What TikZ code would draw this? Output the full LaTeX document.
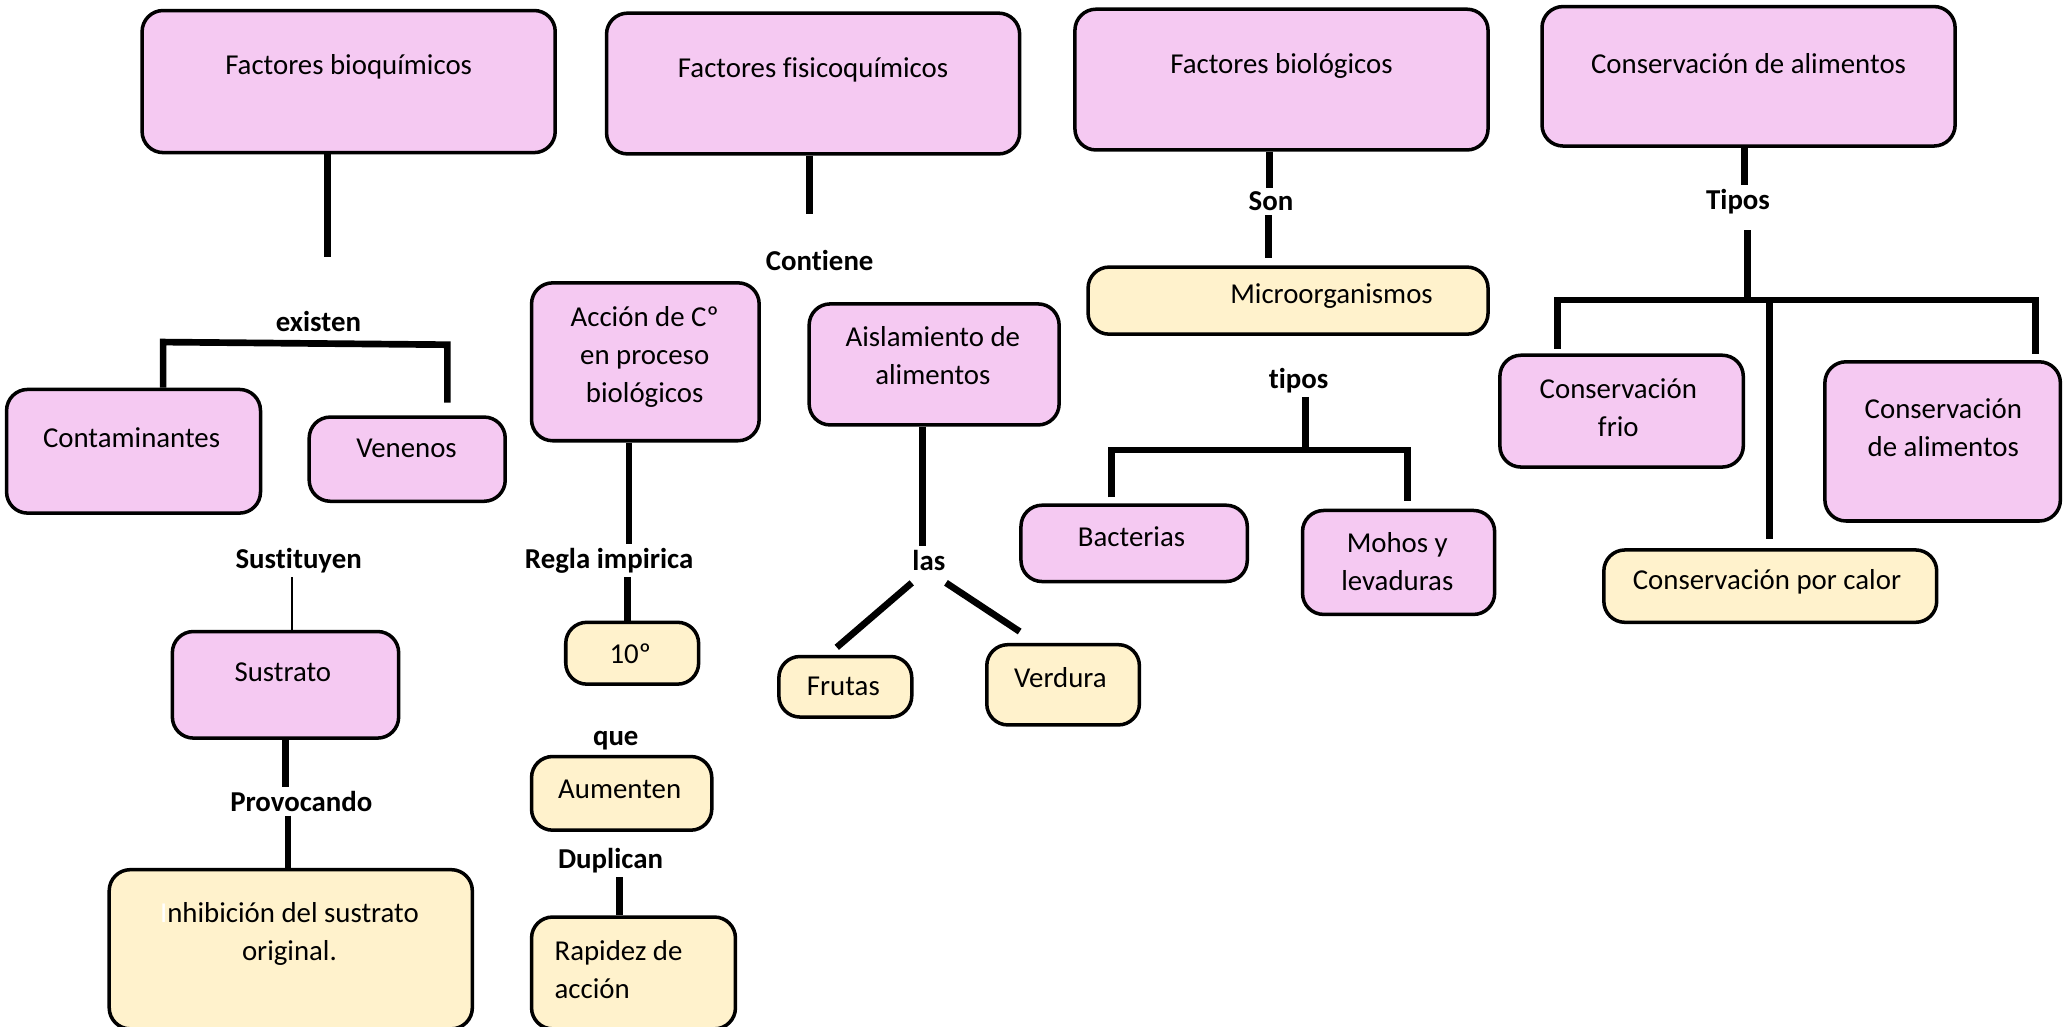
\documentclass[tikz,border=0pt]{standalone}
\usepackage{fontspec}
\setmainfont{Carlito}[Ligatures=NoCommon]
\usetikzlibrary{fit}
\definecolor{rosa}{RGB}{245,201,242}
\definecolor{crema}{RGB}{255,242,204}
\tikzset{caja/.style = {draw=black, line width=1pt, rounded corners=6pt, inner sep=0pt}}
\tikzset{rosabox/.style = {caja, fill=rosa}}
\tikzset{cremabox/.style = {caja, fill=crema}}
\tikzset{txt/.style = {font=\fontsize{8.2}{10.8}\selectfont, align=center, inner sep=0pt}}
\tikzset{rel/.style = {font=\fontsize{8.2}{10.8}\selectfont\bfseries, inner sep=1pt}}
\tikzset{con/.style = {line width=1.9pt}}

\begin{document}
\begin{tikzpicture}[x=0.01316cm, y=-0.01316cm]
                    \useasboundingbox (0,0) rectangle (1568,780);

                    % cajas
                    \node[rosabox, fit={(108,8) (422,116)}] (bioq) {};
                    \node[rosabox, fit={(461,10) (775,117)}] (fisq) {};
                    \node[rosabox, fit={(817,7) (1131,114)}] (biol) {};
                    \node[rosabox, fit={(1172,5) (1486,111)}] (cons) {};
                    \node[rosabox, fit={(5,296) (198,390)}] (conta) {};
                    \node[rosabox, fit={(235,317) (384,381)}] (venen) {};
                    \node[rosabox, fit={(131,480) (303,561)}] (sustr) {};
                    \node[cremabox, fit={(83,661) (359,782)}] (inhib) {};
                    \node[rosabox, fit={(404,215) (577,335)}] (accion) {};
                    \node[rosabox, fit={(615,231) (805,323)}] (aisla) {};
                    \node[cremabox, fit={(430,473) (531,520)}] (diez) {};
                    \node[cremabox, fit={(404,575) (541,631)}] (aumen) {};
                    \node[cremabox, fit={(404,697) (559,782)}] (rapid) {};
                    \node[cremabox, fit={(592,499) (693,545)}] (frutas) {};
                    \node[cremabox, fit={(750,490) (866,551)}] (verdura) {};
                    \node[cremabox, fit={(827,203) (1131,254)}] (micro) {};
                    \node[rosabox, fit={(776,384) (948,442)}] (bact) {};
                    \node[rosabox, fit={(990,388) (1136,467)}] (mohos) {};
                    \node[rosabox, fit={(1140,270) (1325,355)}] (frio) {};
                    \node[rosabox, fit={(1387,275) (1566,396)}] (consal) {};
                    \node[cremabox, fit={(1219,418) (1472,473)}] (calor) {};

                    % textos de las cajas
                    \node[txt] (t-bioq) at (265,51) {Factores bioquímicos};
                    \node[txt] (t-fisq) at (618,53) {Factores fisicoquímicos};
                    \node[txt] (t-biol) at (974,50) {Factores biológicos};
                    \node[txt] (t-cons) at (1329,48) {Conservación de alimentos};
                    \node[txt] (t-conta) at (100,333) {Contaminantes};
                    \node[txt] (t-venen) at (309,341) {Venenos};
                    \node[txt] (t-sustr) at (215,511) {Sustrato};
                    \node[txt] (t-inhib) at (220,710) {{\color{white}I}nhibición del sustrato\\original.};
                    \node[txt] (t-accion) at (490,271) {Acción de Cº\\en proceso\\biológicos};
                    \node[txt] (t-aisla) at (709,270) {Aislamiento de\\alimentos};
                    \node[txt] (t-diez) at (479,497) {10º};
                    \node[txt] (t-aumen) at (471,600) {Aumenten};
                    \node[txt, anchor=west, align=left] (t-rapid) at (421,737) {Rapidez de\\acción};
                    \node[txt] (t-frutas) at (641,522) {Frutas};
                    \node[txt] (t-verdura) at (806,515) {Verdura};
                    \node[txt] (t-micro) at (1012,225) {Microorganismos};
                    \node[txt] (t-bact) at (860,408) {Bacterias};
                    \node[txt] (t-mohos) at (1062,427) {Mohos y\\levaduras};
                    \node[txt] (t-frio) at (1230,310) {Conservación\\frio};
                    \node[txt] (t-consal) at (1477,325) {Conservación\\de alimentos};
                    \node[txt] (t-calor) at (1343,442) {Conservación por calor};

                    % palabras de enlace
                    \node[rel] (existen) at (242,244) {existen};
                    \node[rel] (contiene) at (623,198) {Contiene};
                    \node[rel] (sustituyen) at (227,426) {Sustituyen};
                    \node[rel] (provocando) at (229,609) {Provocando};
                    \node[rel] (regla) at (463,426) {Regla impirica};
                    \node[rel] (que) at (468,563) {que};
                    \node[rel] (duplican) at (464,654) {Duplican};
                    \node[rel] (las) at (706,426) {las};
                    \node[rel] (son) at (966,153) {Son};
                    \node[rel] (tipos) at (987,289) {tipos};
                    \node[rel] (tipos2) at (1321,153) {Tipos};

                    % puntos libres
                    \coordinate (e1) at (249,195);
                    \coordinate (b1) at (124,260);
                    \coordinate (b2) at (340,262);
                    \coordinate (b3) at (340,306);
                    \coordinate (f1) at (615,163);
                    \coordinate (d1) at (693,443);
                    \coordinate (d2) at (636,492);
                    \coordinate (d3) at (719,443);
                    \coordinate (d4) at (775,480);
                    \coordinate (m1) at (964,196);
                    \coordinate (k1) at (992,342);
                    \coordinate (k2) at (845,342);
                    \coordinate (k3) at (1070,342);
                    \coordinate (k4) at (845,378);
                    \coordinate (k5) at (1070,381);
                    \coordinate (c1) at (1328,175);
                    \coordinate (c2) at (1328,228);
                    \coordinate (c3) at (1184,228);
                    \coordinate (c4) at (1547,228);
                    \coordinate (c5) at (1184,265);
                    \coordinate (c6) at (1547,269);
                    \coordinate (c7) at (1345,228);
                    \coordinate (c8) at (1345,410);

                    % conectores
                    \draw[con] (bioq.south -| e1) -- (e1);
                    \draw[con] (conta.north -| b1) -- (b1) -- (b2) -- (b3);
                    \draw[line width=0.6pt] (sustituyen.south -| 222,0) -- (sustr.north -| 222,0);
                    \draw[con] (sustr.south -| 217,0) -- (provocando.north -| 217,0);
                    \draw[con] (provocando.south -| 219,0) -- (inhib.north -| 219,0);
                    \draw[con] (fisq.south -| f1) -- (f1);
                    \draw[con] (accion.south -| 478,0) -- (regla.north -| 478,0);
                    \draw[con] (regla.south -| 477,0) -- (diez.north -| 477,0);
                    \draw[con] (duplican.south -| 471,0) -- (rapid.north -| 471,0);
                    \draw[con] (aisla.south -| 701,0) -- (las.north -| 701,0);
                    \draw[con] (d1) -- (d2);
                    \draw[con] (d3) -- (d4);
                    \draw[con] (biol.south -| 965,0) -- (son.north -| 965,0);
                    \draw[con] (son.south -| m1) -- (m1);
                    \draw[con] (tipos.south -| k1) -- (k1);
                    \draw[con] (k4) -- (k2) -- (k3) -- (k5);
                    \draw[con] (cons.south -| 1326,0) -- (tipos2.north -| 1326,0);
                    \draw[con] (c1) -- (c2);
                    \draw[con] (c5) -- (c3) -- (c4) -- (c6);
                    \draw[con] (c7) -- (c8);
                \end{tikzpicture}
\end{document}
